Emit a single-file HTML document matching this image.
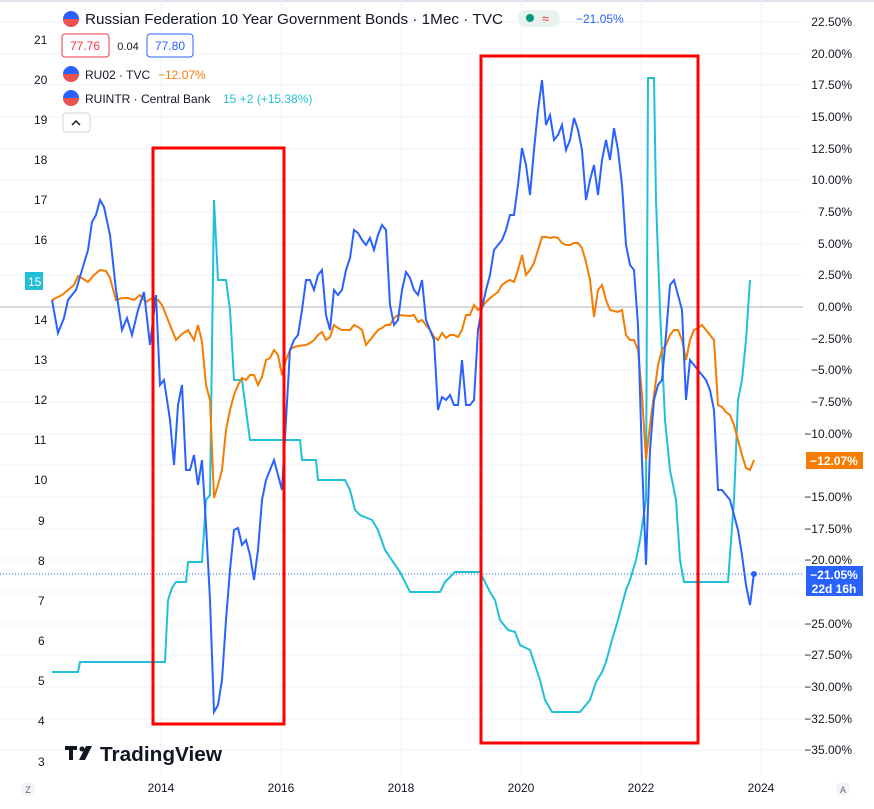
<!DOCTYPE html>
<html><head><style>
body{margin:0;background:#fff;font-family:"Liberation Sans",sans-serif;}
svg text{font-family:"Liberation Sans",sans-serif;}
</style></head><body>
<svg width="874" height="804" xmlns="http://www.w3.org/2000/svg">
<rect width="874" height="804" fill="#fff"/>
<rect x="0" y="0" width="874" height="2" fill="#e0e3eb"/>
<g stroke="#f0f3fa" stroke-width="1">
<line x1="161" y1="0" x2="161" y2="775"/><line x1="281" y1="0" x2="281" y2="775"/><line x1="401" y1="0" x2="401" y2="775"/><line x1="521" y1="0" x2="521" y2="775"/><line x1="641" y1="0" x2="641" y2="775"/><line x1="761" y1="0" x2="761" y2="775"/>
<line x1="0" y1="22" x2="803" y2="22"/><line x1="0" y1="54" x2="803" y2="54"/><line x1="0" y1="85" x2="803" y2="85"/><line x1="0" y1="117" x2="803" y2="117"/><line x1="0" y1="149" x2="803" y2="149"/><line x1="0" y1="180" x2="803" y2="180"/><line x1="0" y1="212" x2="803" y2="212"/><line x1="0" y1="244" x2="803" y2="244"/><line x1="0" y1="275" x2="803" y2="275"/><line x1="0" y1="339" x2="803" y2="339"/><line x1="0" y1="370" x2="803" y2="370"/><line x1="0" y1="402" x2="803" y2="402"/><line x1="0" y1="434" x2="803" y2="434"/><line x1="0" y1="465" x2="803" y2="465"/><line x1="0" y1="497" x2="803" y2="497"/><line x1="0" y1="529" x2="803" y2="529"/><line x1="0" y1="560" x2="803" y2="560"/><line x1="0" y1="592" x2="803" y2="592"/><line x1="0" y1="624" x2="803" y2="624"/><line x1="0" y1="655" x2="803" y2="655"/><line x1="0" y1="687" x2="803" y2="687"/><line x1="0" y1="719" x2="803" y2="719"/><line x1="0" y1="750" x2="803" y2="750"/>
</g>
<line x1="0" y1="307" x2="803" y2="307" stroke="#b2b5be" stroke-width="1"/>
<line x1="0" y1="574" x2="803" y2="574" stroke="#2962ff" stroke-width="1" stroke-dasharray="1,2"/>
<g font-size="12" fill="#131722">
<text x="34" y="44">21</text><text x="34" y="84">20</text><text x="34" y="124">19</text><text x="34" y="164">18</text><text x="34" y="204">17</text><text x="34" y="244">16</text><text x="34" y="324">14</text><text x="34" y="364">13</text><text x="34" y="404">12</text><text x="34" y="444">11</text><text x="34" y="484">10</text><text x="38" y="525">9</text><text x="38" y="565">8</text><text x="38" y="605">7</text><text x="38" y="645">6</text><text x="38" y="685">5</text><text x="38" y="725">4</text><text x="38" y="766">3</text>
</g>
<rect x="25" y="272" width="18" height="18" fill="#22c0d8"/><text x="28" y="286" font-size="12" fill="#fff">15</text>
<g font-size="12" fill="#131722" text-anchor="end">
<text x="852" y="26">22.50%</text><text x="852" y="58">20.00%</text><text x="852" y="89">17.50%</text><text x="852" y="121">15.00%</text><text x="852" y="153">12.50%</text><text x="852" y="184">10.00%</text><text x="852" y="216">7.50%</text><text x="852" y="248">5.00%</text><text x="852" y="279">2.50%</text><text x="852" y="311">0.00%</text><text x="852" y="343">−2.50%</text><text x="852" y="374">−5.00%</text><text x="852" y="406">−7.50%</text><text x="852" y="438">−10.00%</text><text x="852" y="501">−15.00%</text><text x="852" y="533">−17.50%</text><text x="852" y="564">−20.00%</text><text x="852" y="628">−25.00%</text><text x="852" y="659">−27.50%</text><text x="852" y="691">−30.00%</text><text x="852" y="723">−32.50%</text><text x="852" y="754">−35.00%</text>
</g>
<rect x="806" y="452" width="57" height="17" fill="#f57c00"/><text x="834" y="465" font-size="12" fill="#fff" text-anchor="middle" font-weight="bold">−12.07%</text>
<rect x="806" y="566" width="57" height="30" fill="#2962ff"/><text x="834" y="579" font-size="12" fill="#fff" text-anchor="middle" font-weight="bold">−21.05%</text><text x="834" y="593" font-size="12" fill="#fff" text-anchor="middle" font-weight="bold">22d 16h</text>
<g font-size="12" fill="#131722" text-anchor="middle">
<text x="161" y="792">2014</text><text x="281" y="792">2016</text><text x="401" y="792">2018</text><text x="521" y="792">2020</text><text x="641" y="792">2022</text><text x="761" y="792">2024</text>
</g>
<circle cx="28" cy="789" r="7" fill="#f0f3fa"/><text x="28" y="793" font-size="9" fill="#666" text-anchor="middle">Z</text>
<circle cx="843" cy="789" r="7" fill="#f0f3fa"/><text x="843" y="793" font-size="9" fill="#666" text-anchor="middle">A</text>
<polyline fill="none" stroke="#22c0d8" stroke-width="2" points="52,672 78,672 80,662 165,662 168,600 172,588 176,582 186,582 188,562 202,562 206,500 210,495 214,200 218,280 226,280 230,310 234,380 242,380 246,410 250,440 300,440 302,460 316,460 318,480 345,480 350,490 355,510 360,515 372,520 378,530 385,550 400,572 410,592 440,592 445,582 455,572 480,572 485,582 490,592 495,600 500,620 508,630 515,632 520,645 530,650 540,680 545,700 552,712 580,712 590,700 596,682 602,672 606,662 612,640 618,620 626,590 630,580 636,560 640,540 646,500 648,78 654,78 656,200 660,310 665,420 670,470 676,500 680,560 684,582 728,582 734,500 738,400 742,380 746,340 750,280"/>
<polyline fill="none" stroke="#f57c00" stroke-width="2" points="52,300 56,298 62,295 68,290 74,285 78,276 82,278 88,282 94,275 100,270 106,271 110,278 116,300 122,298 128,298 134,300 140,295 146,302 152,298 158,300 162,305 166,315 170,325 176,340 182,334 188,330 194,340 198,325 202,342 206,385 210,400 214,498 218,485 222,470 226,430 230,410 234,395 238,385 242,378 246,380 250,375 254,375 258,385 262,377 266,360 270,358 274,350 278,355 282,375 286,360 290,350 294,347 298,346 306,345 310,343 314,340 318,335 322,332 326,340 330,337 334,325 338,328 342,330 350,330 354,325 358,327 362,330 366,345 370,340 374,335 378,330 382,328 386,325 390,325 394,318 398,315 410,316 414,315 418,322 422,320 426,325 430,330 434,337 438,340 442,333 446,338 450,335 454,335 458,337 462,330 466,315 470,315 474,305 478,310 482,307 486,302 490,298 494,295 498,292 502,285 506,282 510,280 514,282 518,270 522,255 526,275 530,270 534,263 538,250 542,237 546,237 550,238 554,237 558,238 562,243 566,245 570,245 574,243 578,243 582,248 586,262 590,280 594,317 598,290 602,285 606,300 610,310 618,312 622,310 626,335 630,340 634,340 638,350 642,395 646,460 650,425 654,395 658,365 662,350 666,345 670,335 674,330 678,330 682,340 686,360 690,340 694,330 698,328 702,325 706,330 710,335 714,340 718,405 722,407 726,412 730,415 734,425 738,440 742,455 746,468 750,470 754,460"/>
<polyline fill="none" stroke="#2962ff" stroke-width="2" points="52,300 58,333 64,318 68,300 76,290 82,270 88,250 92,222 96,215 100,200 104,207 110,235 116,290 122,330 127,318 132,335 138,310 144,292 150,345 156,295 160,385 164,380 170,420 174,465 178,405 182,385 186,470 190,470 194,455 198,485 202,460 206,525 210,600 214,712 218,705 222,680 226,620 230,570 234,530 238,528 242,545 246,540 250,555 254,580 258,550 262,500 266,480 270,470 274,460 278,475 282,490 286,420 290,350 294,340 298,335 302,310 306,280 310,280 314,290 318,275 322,270 326,315 330,330 334,290 338,295 342,290 346,270 350,258 354,230 358,233 362,240 366,245 370,238 374,250 378,235 382,225 386,230 390,305 394,325 398,320 402,290 406,272 410,278 414,290 418,295 422,280 426,320 430,330 434,340 438,410 442,397 446,400 450,395 454,405 458,405 462,360 466,405 470,405 474,400 478,330 482,308 486,290 490,275 494,250 498,245 502,240 506,230 510,215 514,215 518,185 522,148 526,165 530,195 534,150 538,110 542,80 546,125 550,115 554,140 558,135 562,125 566,150 570,140 574,118 578,130 582,150 586,200 590,180 594,165 598,195 602,160 606,140 610,160 614,128 618,150 622,185 626,245 630,265 634,270 638,325 642,460 646,565 650,450 654,400 658,385 662,380 666,335 670,285 674,280 678,295 682,310 686,400 690,360 694,365 698,370 702,375 706,380 710,390 714,410 718,490 722,490 726,495 730,500 734,515 738,530 742,555 746,585 750,605 754,573"/>
<circle cx="754" cy="574" r="3" fill="#2962ff"/>
<rect x="153" y="148" width="131" height="576" fill="none" stroke="#ff0000" stroke-width="3"/>
<rect x="481" y="56" width="217" height="687" fill="none" stroke="#ff0000" stroke-width="3"/>
<g>
<circle cx="71" cy="19" r="8" fill="#2962ff"/><path d="M63 19 A8 8 0 0 0 79 19 Z" fill="#f05050"/>
<circle cx="71" cy="74" r="8" fill="#2962ff"/><path d="M63 74 A8 8 0 0 0 79 74 Z" fill="#f05050"/>
<circle cx="71" cy="98" r="8" fill="#2962ff"/><path d="M63 98 A8 8 0 0 0 79 98 Z" fill="#f05050"/>
</g>
<text x="85" y="24" font-size="15" fill="#131722" textLength="418" lengthAdjust="spacingAndGlyphs">Russian Federation 10 Year Government Bonds · 1Мес · TVC</text>
<rect x="518" y="10" width="42" height="17" rx="8" fill="#e8f3ee"/><circle cx="530" cy="18" r="4" fill="#089981"/><text x="542" y="23" font-size="13" fill="#f23645">≈</text>
<text x="576" y="23" font-size="12" fill="#2962ff">−21.05%</text>
<rect x="62" y="34" width="47" height="23" rx="3" fill="#fff" stroke="#f23645"/><text x="85" y="50" font-size="12" fill="#f23645" text-anchor="middle">77.76</text>
<text x="128" y="50" font-size="11" fill="#131722" text-anchor="middle">0.04</text>
<rect x="147" y="34" width="46" height="23" rx="3" fill="#fff" stroke="#2962ff"/><text x="170" y="50" font-size="12" fill="#2962ff" text-anchor="middle">77.80</text>
<text x="85" y="79" font-size="12" fill="#131722">RU02 · TVC</text><text x="158" y="79" font-size="12" fill="#f57c00">−12.07%</text>
<text x="85" y="103" font-size="12" fill="#131722">RUINTR · Central Bank</text><text x="223" y="103" font-size="12" fill="#22c0d8">15  +2 (+15.38%)</text>
<rect x="63" y="113" width="27" height="19" rx="3" fill="#fff" stroke="#d1d4dc"/><path d="M72 125 L76 121 L80 125" fill="none" stroke="#131722" stroke-width="1.5"/>
<g fill="#131722"><rect x="65" y="746" width="12" height="4"/><rect x="69" y="746" width="4" height="14"/><circle cx="82" cy="749" r="2.5"/><path d="M86 746 L92 746 L85 760 L79 760 Z"/></g>
<text x="100" y="761" font-size="20" font-weight="bold" fill="#131722" textLength="122" lengthAdjust="spacingAndGlyphs">TradingView</text>
</svg>
</body></html>
